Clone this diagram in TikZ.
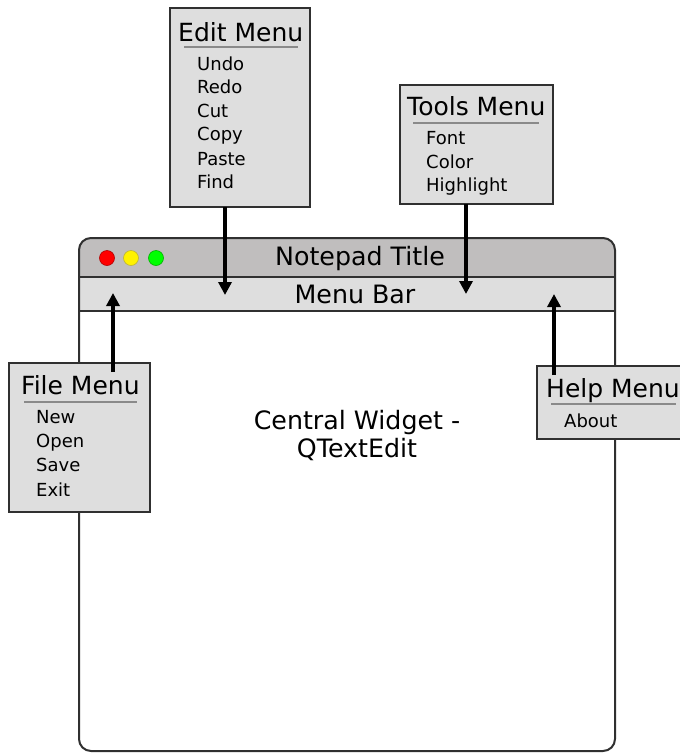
\documentclass[tikz,border=0pt]{standalone}
\usepackage{fontspec}
\setmainfont{DejaVu Sans}
\usetikzlibrary{arrows.meta}
\definecolor{titlegray}{HTML}{C0BEBE}
\definecolor{barfill}{HTML}{DEDEDE}
\definecolor{edgecol}{HTML}{303030}
\definecolor{rulecol}{HTML}{8A8A8A}
\begin{document}
\begin{tikzpicture}[x=1pt,y=-1pt,
  menubox/.style={draw=edgecol, line width=2pt, fill=barfill, anchor=north west, inner sep=0pt, outer sep=0pt},
  ttl/.style={font=\fontsize{25}{27}\selectfont, anchor=base west, inner sep=0pt},
  itm/.style={font=\fontsize{18}{20}\selectfont, anchor=base west, inner sep=0pt},
  big/.style={font=\fontsize{25.3}{27}\selectfont, anchor=base, inner sep=0pt},
  menurule/.style={draw=rulecol, line width=2pt},
  conn/.style={line width=4pt, -{Triangle[length=13pt,width=13pt]}},
  dot/.style={circle, minimum size=15pt, inner sep=0pt, draw=#1!70!black, line width=0.6pt, fill=#1}]
\useasboundingbox (0,0) rectangle (680,753);
\clip (0,0) rectangle (680,753);
% ---------- window ----------
\begin{scope}
  \clip[rounded corners=12pt] (79,238) rectangle (615,751);
  \fill[white] (79,238) rectangle (615,751);
  \fill[titlegray] (79,238) rectangle (615,277);
  \fill[barfill] (79,277) rectangle (615,311);
\end{scope}
\draw[edgecol, line width=2pt, rounded corners=12pt] (79,238) rectangle (615,751);
\draw[edgecol, line width=2pt] (79,277) -- (615,277);
\draw[edgecol, line width=2pt] (79,311) -- (615,311);
\node[dot=red] (red) at (107,258) {};
\node[dot=yellow] (yellow) at (131,258) {};
\node[dot=green] (green) at (156,258) {};
\node[big] (title) at (360,265) {Notepad Title};
\node[big] (menubar) at (355,303) {Menu Bar};
\node[big] (central1) at (357,429) {Central Widget -};
\node[big] (central2) at (357,457) {QTextEdit};
% ---------- Edit menu ----------
\node[menubox, minimum width=140pt, minimum height=199pt] (edit) at (170,8) {};
\node[ttl] (editT) at (178,41) {Edit Menu};
\draw[menurule] (184,47) -- (298,47);
\node[itm] (undo) at (197,70) {Undo};
\node[itm] (redo) at (197,93) {Redo};
\node[itm] (cut) at (197,117) {Cut};
\node[itm] (copy) at (197,140) {Copy};
\node[itm] (paste) at (197,165) {Paste};
\node[itm] (find) at (197,188) {Find};
% ---------- Tools menu ----------
\node[menubox, minimum width=153pt, minimum height=119pt] (tools) at (400,85) {};
\node[ttl] (toolsT) at (407,115) {Tools Menu};
\draw[menurule] (413,123) -- (539,123);
\node[itm] (font) at (426,144) {Font};
\node[itm] (color) at (426,168) {Color};
\node[itm] (highlight) at (426,191) {Highlight};
% ---------- File menu ----------
\node[menubox, minimum width=141pt, minimum height=149pt] (file) at (9,363) {};
\node[ttl] (fileT) at (21,394) {File Menu};
\draw[menurule] (24,402) -- (137,402);
\node[itm] (new) at (36,423) {New};
\node[itm] (open) at (36,447) {Open};
\node[itm] (save) at (36,471) {Save};
\node[itm] (exit) at (36,496) {Exit};
% ---------- Help menu ----------
\node[menubox, minimum width=160pt, minimum height=73pt] (help) at (537,366) {};
\node[ttl] (helpT) at (546,397) {Help Menu};
\draw[menurule] (551,404) -- (676,404);
\node[itm] (about) at (564,427) {About};
% ---------- connectors ----------
\coordinate (editOut) at (225,207);
\coordinate (editIn) at (225,295);
\coordinate (toolsOut) at (466,204);
\coordinate (toolsIn) at (466,294);
\coordinate (fileOut) at (113,372);
\coordinate (fileIn) at (113,293);
\coordinate (helpOut) at (554,375);
\coordinate (helpIn) at (554,294);
\draw[conn] (editOut) -- (editIn);
\draw[conn] (toolsOut) -- (toolsIn);
\draw[conn] (fileOut) -- (fileIn);
\draw[conn] (helpOut) -- (helpIn);
\end{tikzpicture}
\end{document}
